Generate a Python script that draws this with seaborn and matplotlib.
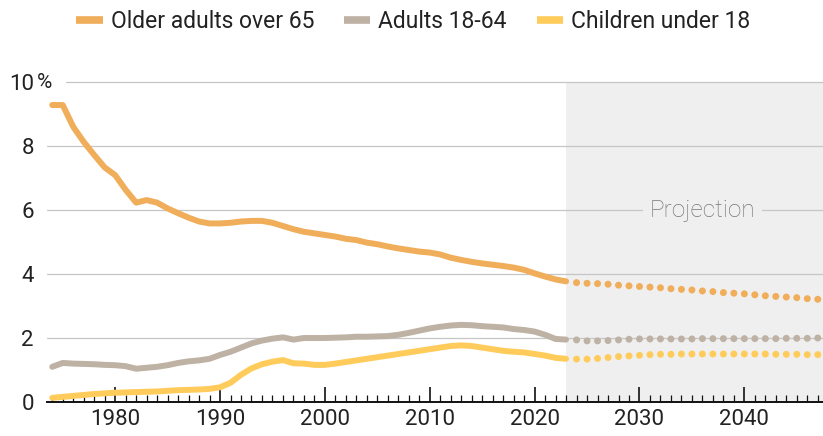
import matplotlib
matplotlib.use("Agg")
import matplotlib.pyplot as plt
from matplotlib.lines import Line2D
import seaborn as sns
import pandas as pd

# data (% of group)
years_hist = list(range(1974, 2024))
years_proj = list(range(2024, 2048))

older_hist = [9.28, 9.28, 8.6, 8.13, 7.72, 7.33, 7.09, 6.63, 6.23, 6.31,
              6.23, 6.05, 5.9, 5.76, 5.64, 5.58, 5.58, 5.6, 5.64, 5.66,
              5.66, 5.6, 5.5, 5.4, 5.32, 5.27, 5.22, 5.17, 5.1, 5.06,
              4.98, 4.93, 4.86, 4.8, 4.75, 4.7, 4.67, 4.61, 4.51, 4.44,
              4.38, 4.33, 4.29, 4.25, 4.2, 4.13, 4.02, 3.92, 3.83, 3.77]
adults_hist = [1.10, 1.22, 1.20, 1.19, 1.18, 1.16, 1.15, 1.12, 1.04, 1.07,
               1.10, 1.15, 1.22, 1.27, 1.30, 1.35, 1.47, 1.57, 1.70, 1.83,
               1.92, 1.98, 2.02, 1.95, 2.0, 2.0, 2.0, 2.01, 2.02, 2.04,
               2.04, 2.05, 2.06, 2.1, 2.16, 2.23, 2.3, 2.35, 2.39, 2.41,
               2.4, 2.37, 2.35, 2.33, 2.28, 2.25, 2.2, 2.1, 1.97, 1.95]
children_hist = [0.13, 0.16, 0.19, 0.22, 0.25, 0.27, 0.29, 0.30, 0.31, 0.32,
                 0.33, 0.35, 0.37, 0.38, 0.39, 0.41, 0.46, 0.6, 0.85, 1.05,
                 1.18, 1.26, 1.31, 1.21, 1.2, 1.16, 1.16, 1.2, 1.25, 1.3,
                 1.35, 1.4, 1.45, 1.5, 1.55, 1.6, 1.65, 1.7, 1.75, 1.77,
                 1.75, 1.7, 1.65, 1.6, 1.57, 1.55, 1.5, 1.45, 1.38, 1.35]

older_proj = [3.73, 3.71, 3.70, 3.68, 3.65, 3.63, 3.61, 3.59, 3.57, 3.54, 3.52, 3.50,
              3.47, 3.45, 3.42, 3.40, 3.38, 3.35, 3.32, 3.30, 3.28, 3.26, 3.23, 3.21]
adults_proj = [1.94, 1.91, 1.91, 1.92, 1.94, 1.96, 1.97, 1.97, 1.97, 1.97, 1.97, 1.97,
               1.98, 1.98, 1.98, 1.98, 1.98, 1.98, 1.98, 1.98, 1.99, 1.99, 1.99, 2.0]
children_proj = [1.34, 1.34, 1.36, 1.39, 1.42, 1.44, 1.46, 1.48, 1.49, 1.49, 1.50, 1.50,
                 1.50, 1.50, 1.50, 1.50, 1.50, 1.50, 1.50, 1.49, 1.49, 1.49, 1.48, 1.48]

groups = ["Older adults over 65", "Adults 18-64", "Children under 18"]
colors = ["#F0AD5A", "#BEB2A5", "#FFCC5C"]

sns.set_style("white")
plt.rcParams["font.family"] = ["Roboto", "DejaVu Sans"]

hist = pd.DataFrame({
    "year": years_hist * 3,
    "pct": older_hist + adults_hist + children_hist,
    "group": [g for g in groups for _ in years_hist],
})
proj = pd.DataFrame({
    "year": years_proj * 3,
    "pct": older_proj + adults_proj + children_proj,
    "group": [g for g in groups for _ in years_proj],
})
palette = dict(zip(groups, colors))

fig = plt.figure(figsize=(8.23, 4.36), dpi=100)
ax = fig.add_axes([47 / 823, 34 / 436, 776 / 823, 320 / 436])

# projection shading
ax.axvspan(2023, 2047.5, color="#EFEFEF", zorder=0, lw=0)

# gridlines
for y in [2, 4, 6, 8]:
    ax.axhline(y, color="#C6C6C6", lw=0.9, zorder=1)
ax.axhline(10, xmin=19 / 776, color="#C6C6C6", lw=0.9, zorder=1, clip_on=False)

sns.lineplot(data=hist, x="year", y="pct", hue="group", palette=palette,
             lw=4.3, legend=False, ax=ax, zorder=3,
             solid_capstyle="round", solid_joinstyle="round")
sns.scatterplot(data=proj, x="year", y="pct", hue="group", palette=palette,
                s=25, linewidth=0, legend=False, ax=ax, zorder=3)

ax.text(2036, 6, "Projection", ha="center", va="center", fontsize=17.5,
        color="#777777", fontweight="light", zorder=2,
        bbox=dict(facecolor="#EFEFEF", edgecolor="none", pad=5))

ax.set_xlim(1973.5, 2047.5)
ax.set_ylim(0, 10)
ax.set_xlabel("")
ax.set_ylabel("")

ax.set_xticks([1980, 1990, 2000, 2010, 2020, 2030, 2040])
ax.set_xticks(list(range(1974, 2048)), minor=True)
ax.tick_params(axis="x", which="major", bottom=True, direction="in", length=11,
               width=1.2, color="#111111", labelsize=16, labelcolor="#222222", pad=5)
ax.tick_params(axis="x", which="minor", bottom=True, direction="in", length=5,
               width=0.9, color="#111111")
ax.set_yticks([0, 2, 4, 6, 8, 10])
ax.set_yticklabels(["0", "2", "4", "6", "8", "10"])
ax.tick_params(axis="y", length=0, labelsize=16, labelcolor="#222222", pad=9.5)
ax.annotate("%", xy=(0, 10), xycoords=("axes fraction", "data"),
            xytext=(-7.4, 0), textcoords="offset points", ha="left", va="center",
            fontsize=15, color="#222222", annotation_clip=False)

for side in ["top", "right", "left"]:
    ax.spines[side].set_visible(False)
ax.spines["bottom"].set_color("#111111")
ax.spines["bottom"].set_linewidth(1.4)
ax.spines["bottom"].set_zorder(4)

handles = [Line2D([0], [0], color=c, lw=5.5, solid_capstyle="butt") for c in colors]
fig.legend(handles, groups, loc="center", bbox_to_anchor=(0.502, 1 - 22 / 436),
           ncol=3, frameon=False, fontsize=16.5, handlelength=1.15,
           handletextpad=0.35, columnspacing=1.3, labelcolor="#222222")

fig.savefig("out.png", dpi=100)
